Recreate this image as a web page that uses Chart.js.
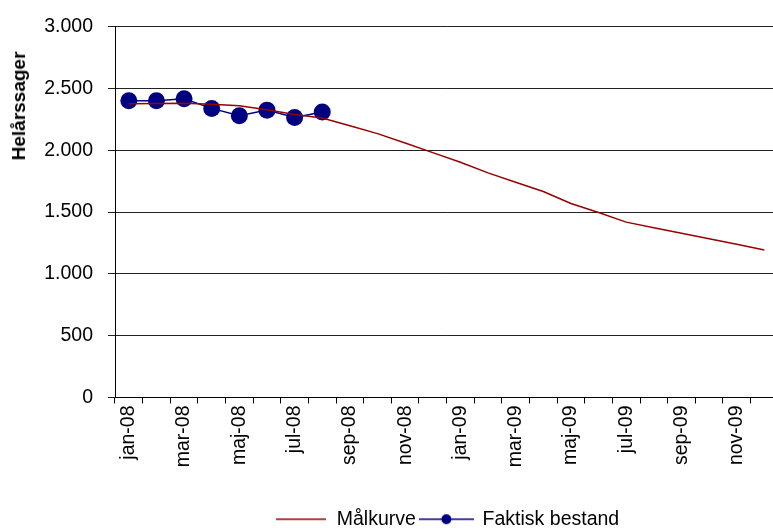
<!DOCTYPE html>
<html>
<head>
<meta charset="utf-8">
<script src="https://cdn.jsdelivr.net/npm/chart.js@4/dist/chart.umd.min.js"></script>
<style>
  html, body { margin: 0; padding: 0; background: #fff; overflow: hidden; }
  #wrap { position: relative; width: 790px; height: 531px; }
  #ytitle {
    position: absolute; left: 19px; top: 106px;
    transform: translate(-50%, -50%) rotate(-90deg);
    font: bold 19px "Liberation Sans", Arial, sans-serif; color: #000;
    white-space: nowrap;
  }
</style>
</head>
<body>
<div id="wrap">
  <canvas id="c" width="790" height="531"></canvas>
  <div id="ytitle">Helårssager</div>
</div>
<script>
const months = ["jan-08","feb-08","mar-08","apr-08","maj-08","jun-08","jul-08","aug-08","sep-08","okt-08","nov-08","dec-08",
                "jan-09","feb-09","mar-09","apr-09","maj-09","jun-09","jul-09","aug-09","sep-09","okt-09","nov-09","dec-09"];
const maalkurve = [2376, 2378, 2381, 2372, 2360, 2328, 2290, 2262, 2199, 2135, 2059, 1981,
                   1903, 1817, 1742, 1667, 1570, 1497, 1419, 1374, 1329, 1284, 1239, 1194];
const faktisk = [2400, 2400, 2417, 2339, 2280, 2325, 2266, 2309, null, null, null, null,
                 null, null, null, null, null, null, null, null, null, null, null, null];
const yTicks = [0, 500, 1000, 1500, 2000, 2500, 3000];
const seriesNames = ["Målkurve", "Faktisk bestand"];

const RED = "#990000";
const BLUE = "#000080";
const FONT = "'Liberation Sans', Arial, sans-serif";
const FS = 19.5;

function legendImg(color, w, withDot) {
  const cv = document.createElement("canvas");
  cv.width = w; cv.height = 14;
  const g = cv.getContext("2d");
  g.strokeStyle = color; g.lineWidth = 1.5;
  g.beginPath(); g.moveTo(0, 7); g.lineTo(w, 7); g.stroke();
  if (withDot) {
    g.fillStyle = color;
    g.beginPath(); g.arc(w / 2, 7, 5, 0, Math.PI * 2); g.fill();
  }
  return cv;
}
const fmt = v => String(v).replace(/\B(?=(\d{3})+(?!\d))/g, ".");

new Chart(document.getElementById("c"), {
  type: "line",
  data: {
    labels: months,
    datasets: [
      { label: seriesNames[0], data: maalkurve, borderColor: RED, backgroundColor: RED,
        borderWidth: 1.5, pointRadius: 0, tension: 0 },
      { label: seriesNames[1], data: faktisk, borderColor: BLUE, backgroundColor: BLUE,
        borderWidth: 1.5, pointRadius: 8.5, pointHoverRadius: 8.5, pointBorderWidth: 0,
        pointBackgroundColor: BLUE, tension: 0, spanGaps: false, pointStyle: "circle" }
    ]
  },
  options: {
    responsive: false,
    animation: false,
    devicePixelRatio: 1,
    layout: { padding: { left: 0, right: 11.4, top: 25, bottom: -8 } },
    plugins: {
      tooltip: { enabled: false },
      legend: {
        position: "bottom",
        fullSize: false,
        labels: {
          color: "#000",
          font: { family: FONT, size: FS },
          usePointStyle: true,
          pointStyleWidth: 53,
          boxHeight: 14,
          padding: 4,
          generateLabels: (chart) => chart.data.datasets.map((ds, i) => ({
            text: ds.label,
            pointStyle: i === 0 ? legendImg(RED, 50, false) : legendImg(BLUE, 55, true),
            datasetIndex: i,
            fontColor: "#000",
            lineWidth: 0,
            strokeStyle: "transparent",
            fillStyle: "transparent"
          }))
        }
      }
    },
    scales: {
      x: {
        type: "category",
        offset: true,
        grid: { display: true, offset: true, drawOnChartArea: false, drawTicks: true,
                tickLength: 6, color: "#000", lineWidth: 1 },
        border: { display: true, color: "#000", width: 1 },
        ticks: {
          autoSkip: false, maxRotation: 90, minRotation: 90, padding: 2,
          color: "#000", font: { family: FONT, size: FS },
          callback: function(v, i) { return i % 2 === 0 ? months[i] : ""; }
        },
        afterFit: s => { s.height = 108; }
      },
      y: {
        min: 0, max: 3000,
        afterBuildTicks: s => { s.ticks = yTicks.map(v => ({ value: v })); },
        grid: { display: true, drawOnChartArea: true, drawTicks: true, tickLength: 7,
                color: "#222", lineWidth: 1 },
        border: { display: true, color: "#000", width: 1 },
        ticks: { padding: 15, color: "#000", font: { family: FONT, size: FS },
                 callback: v => fmt(v) },
        afterFit: s => { s.width = 115; }
      }
    }
  }
});
</script>
</body>
</html>
